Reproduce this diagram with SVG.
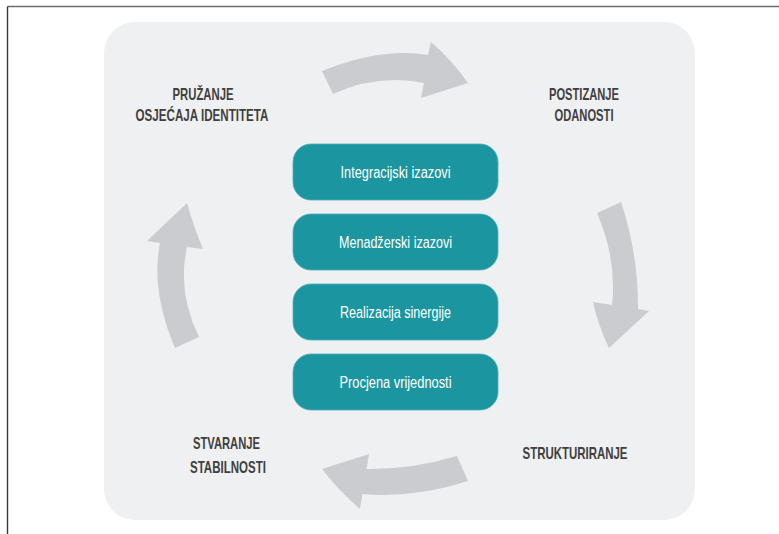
<svg xmlns="http://www.w3.org/2000/svg" width="779" height="534" viewBox="0 0 779 534">
  <defs>
    <style>
      .frame { stroke: #6b6b6b; stroke-width: 1.4; fill: none; }
      .panel { fill: #eff0f2; }
      .arrow { fill: #cbcccf; }
      .box { fill: #1b96a0; stroke: #4fb0b7; stroke-width: 0.8; }
      .boxtext { font-family: "Liberation Sans Narrow", "Liberation Sans", Arial, sans-serif; font-size: 16px; fill: #ffffff; text-anchor: middle; }
      .label { font-family: "Liberation Sans Narrow", "Liberation Sans", Arial, sans-serif; font-size: 17px; font-weight: bold; fill: #404040; text-anchor: middle; }
    </style>
  </defs>
  <rect width="779" height="534" fill="#ffffff"/>
  <g id="frame">
    <line class="frame" x1="7.5" y1="6.5" x2="779" y2="6.5"/>
    <line class="frame" x1="7.5" y1="6.5" x2="7.5" y2="534" style="stroke:#3a3a3a"/>
  </g>
  <rect id="panel" class="panel" x="104" y="22" width="591" height="498" rx="30" ry="32"/>

  <g id="connectors">
    <path id="arrow-top" class="arrow" d="M322,71 Q381,47 428,55 L431,42 Q452,60 468,83 L421,98 L424,83 Q377.5,73.5 333,94 Z"/>
    <path id="arrow-right" class="arrow" d="M621,202 Q638.5,254.5 638,309 L649,311 L609,348 Q598,325 593,302 L612,305 Q617,259 597,213 Z"/>
    <path id="arrow-bottom" class="arrow" d="M468,481 Q414.8,498.5 362.5,494 L360,509 Q338,490 322,469 L369,454 L366.5,469 Q412,469.5 457,456 Z"/>
    <path id="arrow-left" class="arrow" d="M175,348 Q150.5,290.5 160,243 L147,241 L187,203 Q194,228 203,249 L187,247 Q177,292 199,337 Z"/>
  </g>

  <g id="node-integracijski">
    <rect class="box" x="293" y="144" width="205" height="56" rx="18"/>
    <text class="boxtext" x="395.5" y="177.5" textLength="110" lengthAdjust="spacingAndGlyphs">Integracijski izazovi</text>
  </g>
  <g id="node-menadzerski">
    <rect class="box" x="293" y="214" width="205" height="56" rx="18"/>
    <text class="boxtext" x="395.5" y="247.5" textLength="113" lengthAdjust="spacingAndGlyphs">Menadžerski izazovi</text>
  </g>
  <g id="node-realizacija">
    <rect class="box" x="293" y="284" width="205" height="56" rx="18"/>
    <text class="boxtext" x="395.5" y="317.5" textLength="111" lengthAdjust="spacingAndGlyphs">Realizacija sinergije</text>
  </g>
  <g id="node-procjena">
    <rect class="box" x="293" y="354" width="205" height="56" rx="18"/>
    <text class="boxtext" x="395.5" y="387.5" textLength="112" lengthAdjust="spacingAndGlyphs">Procjena vrijednosti</text>
  </g>

  <g id="label-pruzanje">
    <text class="label" x="203" y="100" textLength="61" lengthAdjust="spacingAndGlyphs">PRUŽANJE</text>
    <text class="label" x="202" y="121" textLength="133" lengthAdjust="spacingAndGlyphs">OSJEĆAJA IDENTITETA</text>
  </g>
  <g id="label-postizanje">
    <text class="label" x="584" y="100" textLength="70" lengthAdjust="spacingAndGlyphs">POSTIZANJE</text>
    <text class="label" x="584" y="121" textLength="59" lengthAdjust="spacingAndGlyphs">ODANOSTI</text>
  </g>
  <g id="label-strukturiranje">
    <text class="label" x="575" y="459.3" textLength="105" lengthAdjust="spacingAndGlyphs">STRUKTURIRANJE</text>
  </g>
  <g id="label-stvaranje">
    <text class="label" x="226.5" y="449.3" textLength="67" lengthAdjust="spacingAndGlyphs">STVARANJE</text>
    <text class="label" x="228" y="472.5" textLength="76" lengthAdjust="spacingAndGlyphs">STABILNOSTI</text>
  </g>
</svg>
